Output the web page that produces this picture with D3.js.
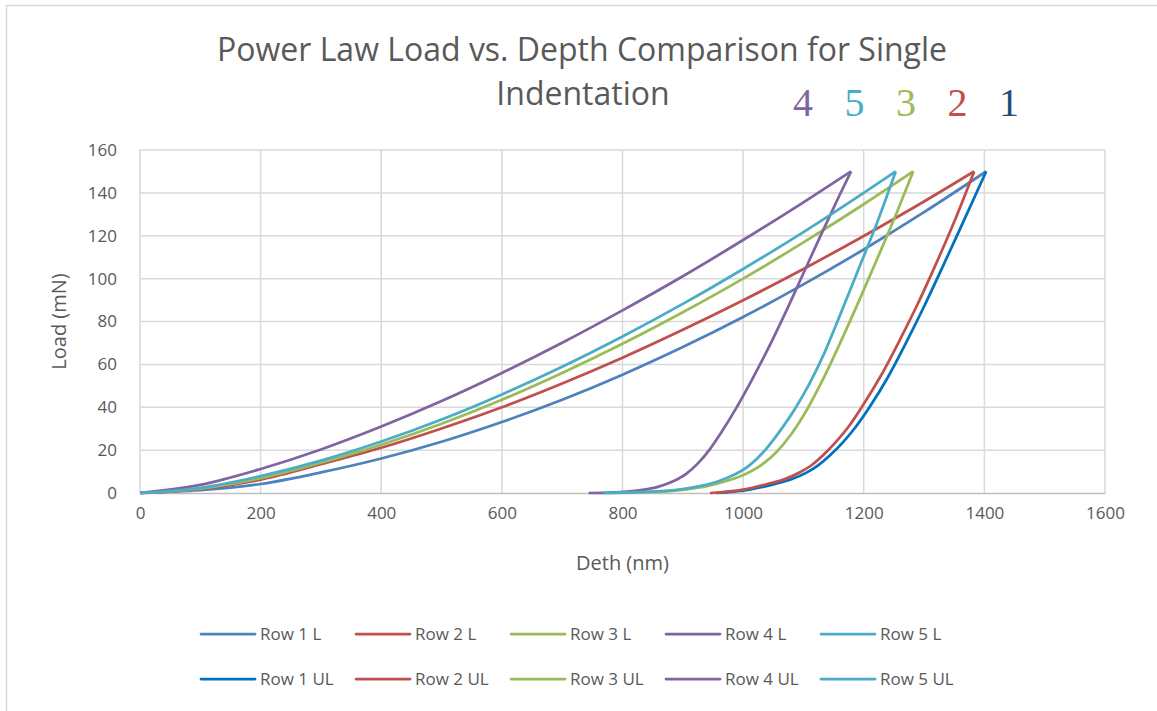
<!DOCTYPE html>
<html>
<head>
<meta charset="utf-8">
<script src="https://cdn.jsdelivr.net/npm/d3@7"></script>
<style>
  body { margin: 0; background: #fff; }
  text { font-family: "Open Sans", "Noto Sans", sans-serif; fill: #595959; }
</style>
</head>
<body>
<div id="chart"></div>
<script>
// loading curves: depth (nm) / load (mN)
const loadDepth = [0, 100, 200, 300, 400, 500, 600, 700, 800, 900, 1000, 1100, 1200, 1300];
const row1L = [0, 1.3, 4.2, 9.6, 16.1, 23.9, 33.1, 43.5, 55.2, 68.1, 82.1, 97.3, 113.6, 131];
const row2L = [0, 1.8, 6.2, 13.4, 21.1, 30.1, 40, 51.1, 63.1, 76.1, 89.9, 104.5, 119.9, 136];
const row3L = [0, 2.0, 6.9, 14.1, 22.5, 32.3, 43.5, 56, 69.6, 84.3, 100, 116.9, 134.7];
const row4L = [0, 3.8, 11.2, 20.3, 31, 42.9, 56, 70.1, 85.2, 101.1, 118, 135.6];
const row5L = [0, 2.4, 7.9, 15.1, 24, 34.3, 46, 58.9, 73, 88.2, 104.5, 121.7, 140];
// max depth at 150 mN
const maxDepth = [1403, 1383, 1282, 1179, 1253];
const maxLoad = 150;

// unloading curves
const row1ULDepth = [955, 1010, 1050, 1080, 1105, 1125, 1145, 1165, 1185, 1210, 1240, 1270, 1300, 1330, 1365, 1403];
const row1ULLoad  = [0, 1.6, 4.0, 6.4, 9.5, 13, 17.8, 23.5, 30.2, 40.2, 54, 70, 87, 105, 126.5, 150];
const row2ULDepth = [945, 1000, 1040, 1070, 1095, 1115, 1135, 1155, 1175, 1200, 1230, 1260, 1290, 1320, 1350, 1383];
const row2ULLoad  = [0, 1.6, 4.2, 6.6, 9.8, 13.3, 18.3, 24.2, 31, 41.5, 55.5, 71.5, 88.5, 107, 126.5, 150];
const row3ULDepth = [775, 850, 900, 940, 975, 1005, 1030, 1055, 1080, 1105, 1135, 1165, 1195, 1225, 1255, 1282];
const row3ULLoad  = [0, 0.5, 1.5, 3.2, 5.8, 9.0, 13.0, 19.0, 27.5, 38.5, 54.5, 72.5, 91.5, 111, 131, 150];
const row4ULDepth = [744, 790, 830, 860, 885, 905, 925, 945, 965, 990, 1015, 1040, 1070, 1100, 1130, 1160, 1179];
const row4ULLoad  = [0, 0.3, 1.3, 3.0, 5.6, 8.8, 13.8, 20.5, 28.8, 40.3, 53, 66.5, 84, 102.5, 121, 139, 150];
const row5ULDepth = [768, 840, 890, 930, 960, 985, 1010, 1035, 1060, 1085, 1110, 1135, 1160, 1190, 1220, 1253];
const row5ULLoad  = [0, 0.5, 1.5, 3.3, 5.6, 8.5, 12.8, 19.5, 28.5, 38.8, 51, 65.5, 82.5, 103.5, 124.5, 150];

const seriesNames = ["Row 1 L", "Row 2 L", "Row 3 L", "Row 4 L", "Row 5 L",
                     "Row 1 UL", "Row 2 UL", "Row 3 UL", "Row 4 UL", "Row 5 UL"];
const seriesColors = ["#4F81BD", "#C0504D", "#9BBB59", "#8064A2", "#4BACC6",
                      "#0070C0", "#C0504D", "#9BBB59", "#8064A2", "#4BACC6"];
const xTicks = [0, 200, 400, 600, 800, 1000, 1200, 1400, 1600];
const yTicks = [0, 20, 40, 60, 80, 100, 120, 140, 160];
const rowLabels = ["4", "5", "3", "2", "1"];
const rowLabelColors = ["#8064A2", "#4BACC6", "#9BBB59", "#C0504D", "#1F4E79"];

const width = 1157;
const height = 711;
const margin = { top: 150, right: 52, bottom: 218, left: 140 };

const svg = d3.select("#chart").append("svg")
  .attr("width", width)
  .attr("height", height);

// outer chart border
svg.append("rect")
  .attr("x", 6.5).attr("y", 5.5)
  .attr("width", width + 20).attr("height", height + 20)
  .attr("fill", "none").attr("stroke", "#D9D9D9").attr("stroke-width", 1.5);

const x = d3.scaleLinear().domain([0, 1600]).range([margin.left, width - margin.right]);
const y = d3.scaleLinear().domain([0, 160]).range([height - margin.bottom, margin.top]);

// gridlines
svg.append("g").selectAll("line").data(xTicks).join("line")
  .attr("x1", d => x(d)).attr("x2", d => x(d))
  .attr("y1", y(0)).attr("y2", y(160))
  .attr("stroke", "#D9D9D9").attr("stroke-width", 1.5);
svg.append("g").selectAll("line").data(yTicks.slice(1)).join("line")
  .attr("x1", x(0)).attr("x2", x(1600))
  .attr("y1", d => y(d)).attr("y2", d => y(d))
  .attr("stroke", "#D9D9D9").attr("stroke-width", 1.5);

// axes
const xAxis = svg.append("g")
  .attr("transform", "translate(0," + y(0) + ")")
  .call(d3.axisBottom(x).tickValues(xTicks).tickFormat(d3.format("d")).tickSize(0).tickPadding(14));
xAxis.select(".domain").attr("stroke", "#BFBFBF").attr("stroke-width", 1.5);
xAxis.selectAll("text").style("font-size", "17px").attr("fill", "#595959");

const yAxis = svg.append("g")
  .attr("transform", "translate(" + x(0) + ",0)")
  .call(d3.axisLeft(y).tickValues(yTicks).tickSize(0).tickPadding(23));
yAxis.select(".domain").remove();
yAxis.selectAll("text").style("font-size", "17px").attr("fill", "#595959");

// build series
const loads = [row1L, row2L, row3L, row4L, row5L];
const unloadDepths = [row1ULDepth, row2ULDepth, row3ULDepth, row4ULDepth, row5ULDepth];
const unloadLoads = [row1ULLoad, row2ULLoad, row3ULLoad, row4ULLoad, row5ULLoad];
const series = [];
loads.forEach((vals, i) => {
  const pts = vals.map((v, j) => [loadDepth[j], v]);
  pts.push([maxDepth[i], maxLoad]);
  series.push({ name: seriesNames[i], color: seriesColors[i], pts });
});
unloadDepths.forEach((depths, i) => {
  const pts = depths.map((h, j) => [h, unloadLoads[i][j]]);
  series.push({ name: seriesNames[i + 5], color: seriesColors[i + 5], pts });
});

const line = d3.line()
  .x(d => x(d[0]))
  .y(d => y(d[1]))
  .curve(d3.curveMonotoneX);

// draw order: L1, UL1, L2, UL2 ...
const order = [0, 5, 1, 6, 2, 7, 3, 8, 4, 9];
svg.append("g").selectAll("path").data(order.map(i => series[i])).join("path")
  .attr("d", d => line(d.pts))
  .attr("fill", "none")
  .attr("stroke", d => d.color)
  .attr("stroke-width", 2.75)
  .attr("stroke-linejoin", "round");

// title
svg.append("text")
  .attr("x", 582).attr("y", 61)
  .attr("text-anchor", "middle")
  .style("font-size", "32px")
  .text("Power Law Load vs. Depth Comparison for Single");
svg.append("text")
  .attr("x", 583).attr("y", 105)
  .attr("text-anchor", "middle")
  .style("font-size", "32px")
  .text("Indentation");

// row numbers beside the title
svg.append("g").selectAll("text").data(rowLabels).join("text")
  .attr("x", (d, i) => 803 + i * 51.5)
  .attr("y", 116)
  .attr("text-anchor", "middle")
  .style("font-family", "'Liberation Serif', 'DejaVu Serif', serif")
  .style("font-size", "40px")
  .style("fill", (d, i) => rowLabelColors[i])
  .text(d => d);

// axis titles
svg.append("text")
  .attr("transform", "translate(66," + ((y(0) + y(160)) / 2) + ") rotate(-90)")
  .attr("text-anchor", "middle")
  .style("font-size", "20px")
  .text("Load (mN)");
svg.append("text")
  .attr("x", (x(0) + x(1600)) / 2).attr("y", 570)
  .attr("text-anchor", "middle")
  .style("font-size", "20px")
  .text("Deth (nm)");

// legend
const legend = svg.append("g").selectAll("g").data(series).join("g")
  .attr("transform", (d, i) => "translate(" + (201 + (i % 5) * 155) + "," + (634 + Math.floor(i / 5) * 45) + ")");
legend.append("line")
  .attr("x1", 0).attr("x2", 54)
  .attr("stroke", d => d.color)
  .attr("stroke-width", 2.75)
  .attr("stroke-linecap", "round");
legend.append("text")
  .attr("x", 59).attr("y", 6)
  .style("font-size", "17px")
  .text(d => d.name);
</script>
</body>
</html>
